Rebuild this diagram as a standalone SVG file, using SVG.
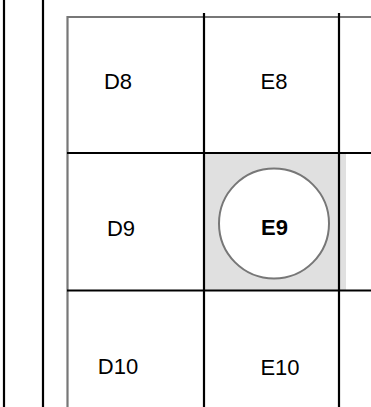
<svg xmlns="http://www.w3.org/2000/svg" width="371" height="407" viewBox="0 0 371 407">
<style>
.lbl{font-family:"Liberation Sans",Arial,sans-serif;font-size:22px;fill:#000;text-anchor:middle}
.grid{stroke:#000;stroke-width:2.2;fill:none}
.gray{stroke:#777;stroke-width:2.2;fill:none}
</style>
<rect width="371" height="407" fill="#fff"/>
<g id="highlight"><rect x="205" y="153" width="141" height="138" fill="#e0e0e0"/></g>
<g id="lines">
<line class="grid" x1="4" y1="0" x2="4" y2="407" stroke-width="2"/>
<line class="grid" x1="43" y1="0" x2="43" y2="407"/>
<polyline class="gray" points="67.5,407 67.5,17 371,17"/>
<line class="grid" x1="204" y1="13" x2="204" y2="407"/>
<line class="grid" x1="339" y1="13" x2="339" y2="407"/>
<line class="grid" x1="67" y1="153" x2="371" y2="153"/>
<line class="grid" x1="67" y1="290.5" x2="371" y2="290.5"/>
</g>
<g id="D8"><text class="lbl" x="118" y="89">D8</text></g>
<g id="E8"><text class="lbl" x="274" y="89">E8</text></g>
<g id="D9"><text class="lbl" x="121" y="236">D9</text></g>
<g id="E9"><circle cx="274" cy="223.5" r="55" fill="#fff" stroke="#777" stroke-width="2"/><text class="lbl" x="274.5" y="235" font-weight="bold">E9</text></g>
<g id="D10"><text class="lbl" x="118" y="374">D10</text></g>
<g id="E10"><text class="lbl" x="280" y="375">E10</text></g>
</svg>
